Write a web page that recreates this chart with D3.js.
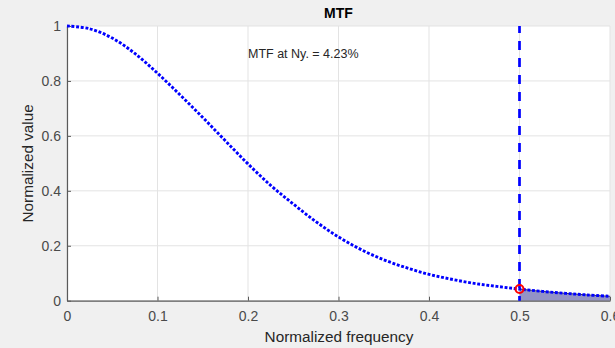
<!DOCTYPE html>
<html>
<head>
<meta charset="utf-8">
<script src="https://cdn.jsdelivr.net/npm/d3@7"></script>
<style>
  body { margin: 0; background: #f0f0f0; }
  svg { display: block; font-family: "Liberation Sans", Arial, sans-serif; }
</style>
</head>
<body>
<div class="main"></div>
<script>
const WIDTH = 615;
const HEIGHT = 348;

// MTF curve
var freq = [0, 0.025, 0.05, 0.075, 0.1, 0.125, 0.15, 0.175, 0.2, 0.225, 0.25, 0.275,
            0.3, 0.325, 0.35, 0.375, 0.4, 0.425, 0.45, 0.475, 0.5, 0.525, 0.55, 0.575, 0.6];
var mtf = [1, 0.99, 0.956, 0.9, 0.828, 0.749, 0.667, 0.582, 0.498, 0.42, 0.352, 0.288,
           0.232, 0.186, 0.149, 0.12, 0.096, 0.078, 0.063, 0.052, 0.0423, 0.034, 0.027, 0.021, 0.016];
var nyquist = 0.5;
var mtfAtNy = 0.0423;
var xTicks = [0, 0.1, 0.2, 0.3, 0.4, 0.5, 0.6];
var yTicks = [0, 0.2, 0.4, 0.6, 0.8, 1];

var margin = {left: 67, right: 5, top: 26, bottom: 47.3};

var svg = d3.select(".main")
    .append("svg")
        .attr("width", WIDTH)
        .attr("height", HEIGHT);

var x = d3.scaleLinear().domain([0, 0.6]).range([margin.left, WIDTH - margin.right]);
var y = d3.scaleLinear().domain([0, 1]).range([HEIGHT - margin.bottom, margin.top]);

var data = freq.map((f, i) => ({f: f, v: mtf[i]}));

// axes background
svg.append("rect")
    .attr("x", x(0)).attr("y", y(1))
    .attr("width", x(0.6) - x(0)).attr("height", y(0) - y(1))
    .attr("fill", "#ffffff");

// grid
svg.append("g").selectAll("line").data(xTicks).join("line")
    .attr("x1", d => x(d)).attr("x2", d => x(d))
    .attr("y1", y(0)).attr("y2", y(1))
    .attr("stroke", "#e3e3e3");
svg.append("g").selectAll("line").data(yTicks).join("line")
    .attr("x1", x(0)).attr("x2", x(0.6))
    .attr("y1", d => y(d)).attr("y2", d => y(d))
    .attr("stroke", "#e3e3e3");

// shaded area above Nyquist
var tail = data.filter(d => d.f >= nyquist);
svg.append("path")
    .datum(tail)
    .attr("d", d3.area().curve(d3.curveCatmullRom).x(d => x(d.f)).y0(y(0)).y1(d => y(d.v)))
    .attr("fill", "#9393c6")
    .attr("stroke", "none");
svg.append("path")
    .datum(tail)
    .attr("d", d3.line().curve(d3.curveCatmullRom).x(d => x(d.f)).y(d => y(d.v)))
    .attr("fill", "none")
    .attr("stroke", "#333366")
    .attr("stroke-width", 1);

// axes
var xAxis = d3.axisBottom(x).tickValues(xTicks).tickFormat(d3.format("")).tickSizeInner(-4).tickSizeOuter(0);
var yAxis = d3.axisLeft(y).tickValues(yTicks).tickFormat(d3.format("")).tickSizeInner(-4).tickSizeOuter(0);

var gx = svg.append("g")
    .attr("transform", `translate(0,${y(0)})`)
    .call(xAxis);
var gy = svg.append("g")
    .attr("transform", `translate(${x(0)},0)`)
    .call(yAxis);

[gx, gy].forEach(g => {
    g.select(".domain").attr("stroke", "#5a5a5a").attr("stroke-width", 1.2);
    g.selectAll(".tick line").attr("stroke", "#5a5a5a");
    g.selectAll(".tick text")
        .attr("fill", "#4a4a4a")
        .attr("font-size", 14)
        .attr("font-family", "Liberation Sans, Arial, sans-serif");
});
gx.selectAll(".tick text").attr("y", 10);
gy.selectAll(".tick text").attr("x", -6);

// Nyquist line
svg.append("line")
    .attr("x1", x(nyquist)).attr("x2", x(nyquist))
    .attr("y1", y(1)).attr("y2", y(0))
    .attr("stroke", "#0000ff")
    .attr("stroke-width", 2.7)
    .attr("stroke-dasharray", "9 8")
    .attr("stroke-dashoffset", 2);

// MTF dotted curve
svg.append("path")
    .datum(data)
    .attr("d", d3.line().curve(d3.curveCatmullRom).x(d => x(d.f)).y(d => y(d.v)))
    .attr("fill", "none")
    .attr("stroke", "#0000ff")
    .attr("stroke-width", 2.9)
    .attr("stroke-dasharray", "2.9 1.7");

// marker
svg.append("circle")
    .attr("cx", x(nyquist)).attr("cy", y(mtfAtNy))
    .attr("r", 4)
    .attr("fill", "none")
    .attr("stroke", "#ff0000")
    .attr("stroke-width", 2);

// texts
svg.append("text")
    .attr("x", (x(0) + x(0.6)) / 2).attr("y", 18)
    .attr("text-anchor", "middle")
    .attr("font-weight", "bold")
    .attr("font-size", 14)
    .attr("fill", "#000")
    .text("MTF");

svg.append("text")
    .attr("x", 248).attr("y", 58)
    .attr("font-size", 12.5)
    .attr("fill", "#262626")
    .text("MTF at Ny. = " + (mtfAtNy * 100).toFixed(2) + "%");

svg.append("text")
    .attr("x", 339).attr("y", 342)
    .attr("text-anchor", "middle")
    .attr("font-size", 15.3)
    .attr("fill", "#262626")
    .text("Normalized frequency");

svg.append("text")
    .attr("transform", `translate(33,${(y(0) + y(1)) / 2}) rotate(-90)`)
    .attr("text-anchor", "middle")
    .attr("font-size", 15.3)
    .attr("fill", "#262626")
    .text("Normalized value");
</script>
</body>
</html>
